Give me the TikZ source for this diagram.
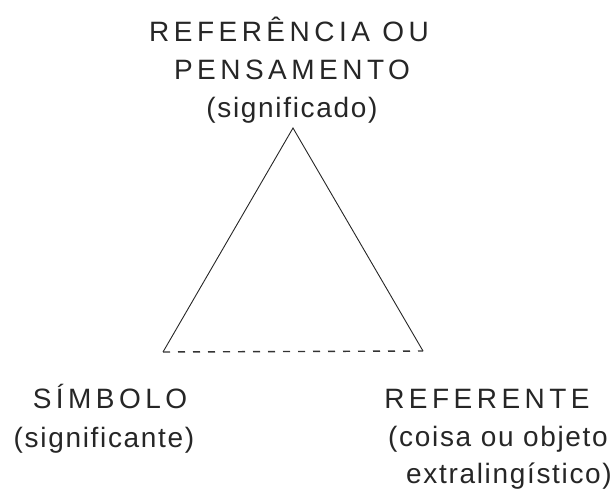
\documentclass[tikz,border=0pt]{standalone}
\usepackage{fontspec}
\setmainfont{Liberation Sans}
\newfontfamily\capsfont[LetterSpace=16]{Liberation Sans}
\newfontfamily\lowfont[LetterSpace=6]{Liberation Sans}
\usepackage{tikz}
\usetikzlibrary{calc}

\begin{document}
\begin{tikzpicture}[x=1pt,y=-1pt,
        caps/.style={anchor=base,inner sep=0pt,text=black!85,font=\fontsize{28}{28}\capsfont},
        lows/.style={anchor=base,inner sep=0pt,text=black!85,font=\fontsize{28}{28}\lowfont}]
        \useasboundingbox (0,0) rectangle (614,490);
        % vertices of the triangle
        \coordinate (topv) at (293,128);
        \coordinate (leftv) at (163,352);
        \coordinate (rightv) at (423,351);
        \draw[line width=0.9pt,black!85] (leftv) -- (topv) -- (rightv);
        \draw[line width=1.4pt,black!80,dash pattern=on 7pt off 8pt] (leftv) -- (rightv);
        % top label
        \node[caps] (ref1) at (289,41.5) {REFERÊNCIA OU};
        \node[caps] (ref2) at (292,79) {PENSAMENTO};
        \node[lows] (ref3) at (292,117) {(significado)};
        % left label
        \node[caps] (sim1) at (110,408) {SÍMBOLO};
        \node[lows] (sim2) at (104,447) {(significante)};
        % right label
        \node[caps] (obj1) at (487,408) {REFERENTE};
        \node[lows] (obj2) at (498,446) {(coisa ou objeto};
        \node[lows] (obj3) at (509,483) {extralingístico)};
\end{tikzpicture}
\end{document}
